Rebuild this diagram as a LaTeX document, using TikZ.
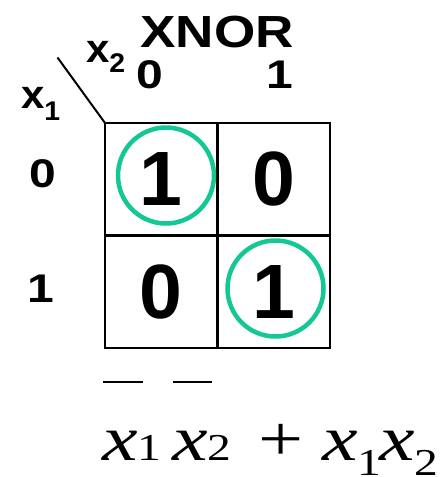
\documentclass[tikz,border=0pt]{standalone}
\usepackage{graphicx}
\usepackage{fontspec}
\setmainfont{Liberation Sans}
\newfontfamily\formulafont{Liberation Serif}
\usetikzlibrary{positioning}
\definecolor{loopgreen}{HTML}{14C896}
\newcommand{\xsub}[2]{\textit{x}\raisebox{#2}{\fontsize{38}{38}\selectfont #1}}
\newcommand{\wide}[2]{\scalebox{#1}[1]{#2}}

\begin{document}
\begin{tikzpicture}[x=1pt, y=-1pt, node distance=0pt,
  every node/.style={inner sep=0pt, outer sep=0pt},
  cell/.style={draw, line width=2.8pt, minimum size=112.5pt, font=\fontsize{77}{77}\selectfont\bfseries},
  lbl/.style={anchor=base, font=\fontsize{40}{40}\selectfont\bfseries},
  group/.style={draw=loopgreen, line width=4.5pt, circle, minimum size=96pt}]
\useasboundingbox (0,0) rectangle (447,477);
% map cells
\node[cell] (c00) at (161.25,179.25) {1};
\node[cell, right=of c00] (c01) {0};
\node[cell, below=of c00] (c10) {0};
\node[cell, right=of c10] (c11) {1};
% groups of ones
\node[group] (g1) at (166,175.5) {};
\node[group] (g2) at (275.5,288.5) {};
% corner with variable names
\coordinate (corner) at (57.5,57.5);
\draw[line width=2pt] (corner) -- (c00.north west);
\node[anchor=base, font=\fontsize{45}{45}\selectfont\bfseries] (title) at (217,47) {\wide{1.18}{XNOR}};
\node[anchor=base west, font=\fontsize{40}{40}\selectfont\bfseries] (xtwo) at (86,62) {\wide{1.05}{x\raisebox{-10pt}{\fontsize{27}{27}\selectfont 2}}};
\node[anchor=base west, font=\fontsize{40}{40}\selectfont\bfseries] (xone) at (21,108) {\wide{1.05}{x\raisebox{-12pt}{\fontsize{27}{27}\selectfont 1}}};
\node[lbl] (col0) at (150,88) {\wide{1.2}{0}};
\node[lbl] (col1) at (280,88) {\wide{1.2}{1}};
\node[lbl] (row0) at (42.5,187) {\wide{1.2}{0}};
\node[lbl] (row1) at (40.5,302) {\wide{1.2}{1}};
% expression
\node[anchor=base west, font=\formulafont\fontsize{64}{64}\selectfont] (expr) at (102,460)
  {\wide{1.25}{\xsub{1}{0pt}\hspace{8.6pt}\xsub{2}{0pt}\hspace{22pt}+\hspace{14.5pt}\xsub{1}{-15pt}\hspace{-1.8pt}\xsub{2}{-15pt}}};
\draw[line width=2pt] (103,382) -- (143,382);
\draw[line width=2pt] (173,382) -- (212,382);
\end{tikzpicture}
\end{document}
